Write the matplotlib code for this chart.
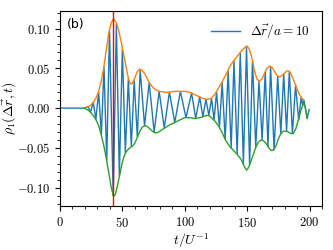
import numpy as np
import matplotlib
matplotlib.use('Agg')
import matplotlib.pyplot as plt
from matplotlib.ticker import MultipleLocator, FuncFormatter

plt.rcParams['mathtext.fontset'] = 'cm'

sig_t = [0, 19.5, 22.5, 24.5, 26.7, 28.8, 31.0, 33.2, 35.3, 37.5, 39.7, 42.7,
         45.2, 47.6, 50.0, 52.4, 54.8, 57.2, 59.5, 62.0, 64.3, 67.8, 71.5, 75.5,
         79.5, 83.6, 87.7, 92.0, 96.5, 101.0, 105.5, 108.8, 112.0, 114.5, 117.0,
         119.3, 121.5, 123.5, 125.5, 127.8, 130.0, 132.4, 134.8, 137.2, 139.5,
         142.0, 144.5, 147.0, 149.5, 152.0, 154.3, 156.9, 159.5, 162.0, 164.5,
         166.7, 168.8, 171.6, 174.5, 177.0, 179.3, 181.6, 183.8, 186.3, 188.8,
         191.3, 193.3, 194.4, 195.5, 198.1, 199.7]
sig_v = [0, 0, 0.002, -0.005, 0.007, -0.014, 0.020, -0.033, 0.052, -0.066, 0.098, -0.110,
         0.105, -0.085, 0.074, -0.056, 0.036, -0.048, 0.035, -0.036, 0.048, -0.022, 0.032, -0.030,
         0.021, -0.025, 0.020, -0.018, 0.021, -0.012, 0.019, -0.013, 0.014, -0.011, 0.011,
         -0.009, 0.012, -0.015, 0.020, -0.024, 0.032, -0.039, 0.046, -0.050, 0.059,
         -0.058, 0.069, -0.070, 0.076, -0.071, 0.060, -0.049, 0.034, -0.040, 0.045,
         -0.048, 0.052, -0.052, 0.040, -0.032, 0.043, -0.029, 0.046, -0.032, 0.029,
         -0.015, 0.014, 0.004, 0.010, -0.013, -0.002]

# upper envelope
up_t = [19, 21, 23, 25, 27, 29, 31, 33, 35, 37, 39, 41, 43, 45, 47, 49, 51, 53, 55,
        56.5, 58, 60, 62, 64, 66, 68, 70, 72, 74, 76, 78, 80, 84, 88, 92, 96, 100,
        104, 108, 112, 115, 118, 121, 124, 127, 130, 133, 136, 139, 142, 145, 148,
        150, 152, 154, 156, 158, 160, 162, 164, 166, 168, 170, 172, 174, 176, 178,
        180, 182, 184, 186, 188, 190, 192, 194, 195.5]
up_v = [0, 0.001, 0.002, 0.004, 0.008, 0.013, 0.021, 0.033, 0.050, 0.072, 0.093, 0.107,
        0.112, 0.108, 0.098, 0.084, 0.068, 0.052, 0.036, 0.030, 0.031, 0.038, 0.046,
        0.049, 0.047, 0.043, 0.037, 0.031, 0.027, 0.024, 0.022, 0.021, 0.020, 0.020,
        0.021, 0.021, 0.021, 0.020, 0.017, 0.014, 0.012, 0.011, 0.012, 0.017, 0.025,
        0.033, 0.042, 0.052, 0.059, 0.065, 0.071, 0.076, 0.078, 0.073, 0.062, 0.046,
        0.036, 0.034, 0.037, 0.044, 0.050, 0.053, 0.051, 0.046, 0.041, 0.039, 0.041,
        0.044, 0.047, 0.046, 0.040, 0.032, 0.024, 0.017, 0.012, 0.010]

# lower envelope
lo_t = [19, 21, 23, 25, 27, 29, 31, 33, 35, 37, 39, 41, 43, 44.5, 46, 48, 50, 52, 54,
        56, 58, 60, 62, 64, 66, 68, 70, 72, 74, 76, 78, 80, 84, 88, 92, 96, 100, 104,
        108, 112, 116, 118, 120, 122, 124, 127, 130, 133, 136, 139, 142, 145, 148,
        149.5, 151, 153, 155, 157, 159, 161, 163, 165, 167, 169, 171, 173, 175, 177,
        179, 181, 183, 185, 187, 189, 191, 193, 195, 196.5, 198.1]
lo_v = [0, -0.001, -0.003, -0.006, -0.010, -0.015, -0.022, -0.033, -0.046, -0.062,
        -0.080, -0.099, -0.111, -0.108, -0.098, -0.083, -0.068, -0.058, -0.053, -0.050,
        -0.048, -0.044, -0.037, -0.029, -0.024, -0.022, -0.023, -0.026, -0.029, -0.031,
        -0.031, -0.029, -0.025, -0.021, -0.018, -0.015, -0.012, -0.012, -0.013, -0.012,
        -0.010, -0.009, -0.010, -0.013, -0.016, -0.022, -0.031, -0.041, -0.048, -0.053,
        -0.058, -0.064, -0.074, -0.078, -0.075, -0.067, -0.058, -0.049, -0.043, -0.040,
        -0.041, -0.044, -0.049, -0.053, -0.053, -0.048, -0.039, -0.032, -0.029, -0.029,
        -0.030, -0.032, -0.032, -0.026, -0.015, -0.003, 0.006, 0.002, -0.013]

t_mark = 42.7

fig = plt.figure(figsize=(3.33, 2.5), dpi=100)
ax = fig.add_axes([0.18, 0.176, 0.787, 0.78])

ax.plot(sig_t, sig_v, color='#1f77b4', lw=1.0, label=r'$\Delta\vec{r}/a = 10$')
ax.plot(up_t, up_v, color='#ff7f0e', lw=1.0)
ax.plot(lo_t, lo_v, color='#2ca02c', lw=1.0)
ax.axvline(t_mark, color='red', lw=1.0)

ax.set_xlim(0, 210)
ax.set_ylim(-0.123, 0.122)
ax.xaxis.set_major_locator(MultipleLocator(50))
ax.xaxis.set_minor_locator(MultipleLocator(10))
ax.yaxis.set_major_locator(MultipleLocator(0.05))
ax.yaxis.set_minor_locator(MultipleLocator(0.01))
ax.xaxis.set_major_formatter(FuncFormatter(lambda v, p: r'$%d$' % round(v)))
ax.yaxis.set_major_formatter(FuncFormatter(lambda v, p: r'$%.2f$' % (0.0 if abs(v) < 1e-9 else v)))
ax.tick_params(labelsize=9)
ax.tick_params(which='minor', length=2)

ax.set_xlabel(r'$t/U^{-1}$', fontsize=10, labelpad=1)
ax.set_ylabel(r'$\rho_1(\Delta\vec{r}, t)$', fontsize=10)
ax.yaxis.set_label_coords(-0.155, 0.5)
ax.text(0.025, 0.965, '(b)', transform=ax.transAxes, fontsize=9, va='top', ha='left')
ax.legend(loc='upper right', frameon=False, fontsize=9.5, handlelength=2.2)

fig.savefig('out.png', dpi=100)
